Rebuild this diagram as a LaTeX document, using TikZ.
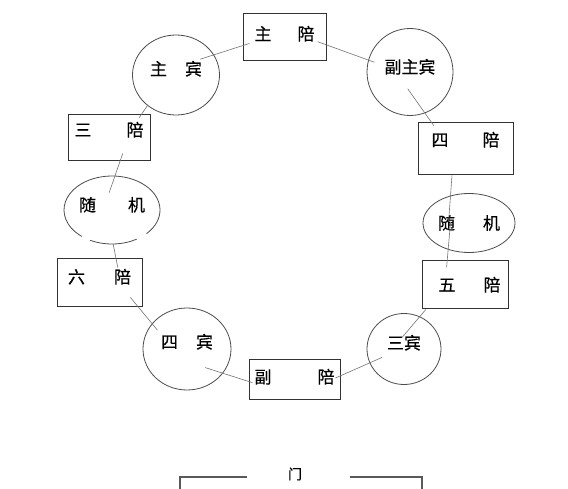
\documentclass[tikz,border=0pt]{standalone}
\usepackage{fontspec}
\newfontfamily\cjk[FakeBold=0.5]{Noto Sans CJK SC}
\usetikzlibrary{shapes.geometric,calc}

\begin{document}
\begin{tikzpicture}[x=1pt, y=-1pt, font=\cjk\fontsize{17}{19}\selectfont,
    seat/.style={draw=black!80, line width=1pt, inner sep=2pt, text height=13pt, text depth=0.4pt},
    guest/.style={ellipse, draw=black!70, line width=0.8pt, inner sep=0pt, text height=13pt, text depth=0.4pt},
    ring/.style={draw=black!70, line width=0.8pt},
    link/.style={draw=black!55, line width=0.6pt},
    frame/.style={draw=black!65, line width=1.2pt}]
  \useasboundingbox (0,0) rectangle (568,489);
  % seats
  \node[seat, minimum width=83pt, minimum height=47pt, text depth=7.4pt] (zhupei) at (284.5,37.5) {主\hspace{26pt}陪\hspace{6pt}};
  \node[seat, minimum width=82pt, minimum height=46pt, text depth=16.4pt] (sanpei) at (109,138) {三\hspace{35pt}陪\hspace{6pt}};
  \node[seat, minimum width=95pt, minimum height=52pt, text depth=18.4pt] (sipei) at (465.5,149) {四\hspace{34pt}陪};
  \node[seat, minimum width=85pt, minimum height=48pt, text depth=12.4pt] (liupei) at (99.5,283) {六\hspace{29pt}陪};
  \node[seat, minimum width=86pt, minimum height=48pt] (wupei) at (465,285) {\hspace{9pt}五\hspace{28pt}陪};
  \node[seat, minimum width=91pt, minimum height=40pt, text depth=4.4pt] (fupei) at (294.5,379) {副\hspace{46pt}陪};
  % guests
  \node[guest, minimum width=87pt, minimum height=80pt, text depth=12.4pt] (zhubin) at (176,75) {主\hspace{18pt}宾\hspace{8pt}};
  \node[guest, minimum width=86pt, minimum height=87pt, text depth=10.4pt] (fuzhubin) at (410,72) {副主宾\hspace{8pt}};
  \node[ellipse, inner sep=0pt, text height=13pt, text depth=10.4pt, minimum width=96pt, minimum height=68pt] (suiji1) at (112,210) {随\hspace{32pt}机};
  \node[guest, minimum width=92pt, minimum height=59pt, text depth=0pt] (suiji2) at (469,223) {随\hspace{28pt}机};
  \node[guest, minimum width=88pt, minimum height=82pt, text depth=14.4pt] (sibin) at (187,349) {四\hspace{18pt}宾\hspace{9pt}};
  \node[guest, minimum width=74pt, minimum height=71pt, text depth=12.4pt] (sanbin) at (404,349) {三宾\hspace{12pt}};
  % broken outline of the left one
  \draw[ring] ($(suiji1.center)+(316:48pt and 34pt)$) arc[start angle=316, end angle=591, x radius=48pt, y radius=34pt];
  \draw[ring] ($(suiji1.center)+(243:48pt and 34pt)$) arc[start angle=243, end angle=301, x radius=48pt, y radius=34pt];
  % links round the table
  \draw[link, shorten <=-14.5pt, shorten >=-7.3pt] (zhubin.28) -- (zhupei.191);
  \draw[link, shorten <=-9.5pt, shorten >=-6.6pt] (zhupei.-10) -- (fuzhubin.164);
  \draw[link, shorten <=-29.9pt, shorten >=-3.8pt] (fuzhubin.-70) -- (sipei.142);
  \draw[link, shorten >=-26pt] (sipei.243) -- (suiji2.124);
  \draw[link, shorten <=-28pt, shorten >=-7pt] (suiji2.232) -- (wupei.126);
  \draw[link, shorten >=-28pt] (wupei.212) -- (sanbin.64);
  \draw[link, shorten <=-13.6pt, shorten >=-5.5pt] (sanbin.202) -- (fupei.4);
  \draw[link, shorten <=-4.2pt, shorten >=-18.7pt] (fupei.183) -- (sibin.326);
  \draw[link, shorten <=-13.1pt, shorten >=-8.5pt] (liupei.328) -- (sibin.144);
  \draw[link, shorten >=-9.2pt] (suiji1.272) -- (liupei.56);
  \draw[link, shorten <=-8.4pt, shorten >=-17.8pt] (sanpei.295) -- (suiji1.85);
  \draw[link, shorten <=-4.1pt] (sanpei.36) -- (zhubin.227);
  % door
  \node[font=\cjk\fontsize{14}{16}\selectfont] (door) at (295,474) {门};
  \draw[frame] (180,489) -- (180,477) -- (247,477);
  \draw[frame] (350,477) -- (422,477) -- (422,489);
\end{tikzpicture}
\end{document}
